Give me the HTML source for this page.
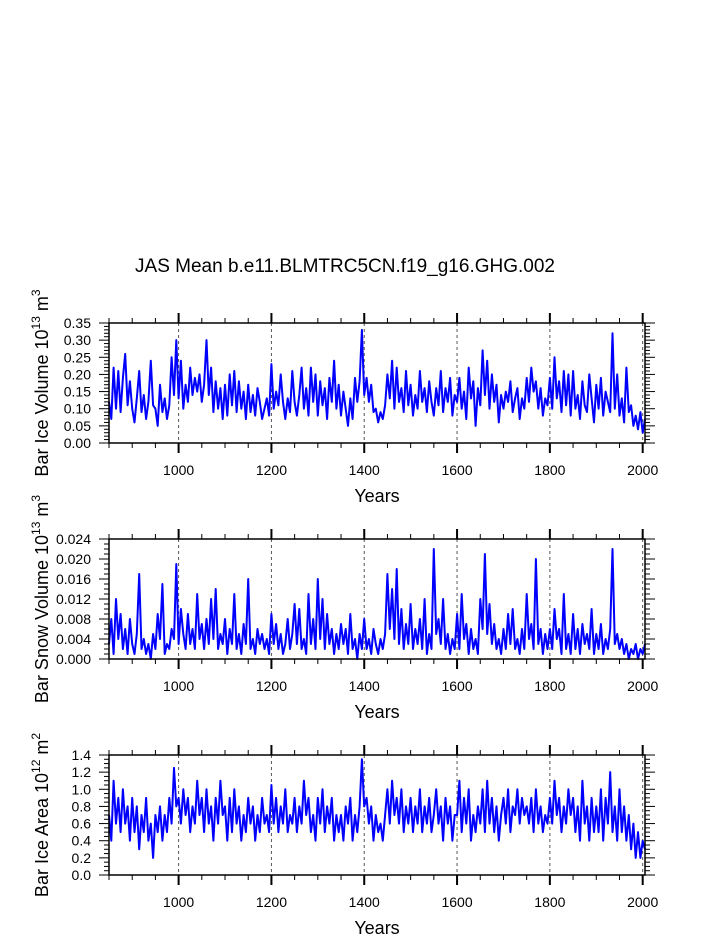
<!DOCTYPE html>
<html><head><meta charset="utf-8"><style>
html,body{margin:0;padding:0;background:#fff}
svg{display:block;font-family:"Liberation Sans",Helvetica,sans-serif}
</style></head><body>
<svg id="chart" width="723" height="935" viewBox="0 0 723 935" xmlns="http://www.w3.org/2000/svg">
<text x="345" y="272" font-size="19" text-anchor="middle">JAS Mean b.e11.BLMTRC5CN.f19_g16.GHG.002</text>
</svg>
<script>
const startYear = 850;
const stepYears = 5;
const xTickLabels = ["1000","1200","1400","1600","1800","2000"];
const iceVolume = [
0.12,0.07,0.22,0.10,0.21,0.09,0.19,0.26,0.11,0.18,
0.10,0.06,0.13,0.21,0.09,0.14,0.07,0.12,0.24,0.11,
0.10,0.05,0.17,0.09,0.13,0.07,0.11,0.25,0.14,0.30,
0.13,0.24,0.10,0.17,0.12,0.22,0.14,0.19,0.15,0.20,
0.12,0.17,0.30,0.14,0.22,0.09,0.18,0.10,0.16,0.07,
0.17,0.08,0.20,0.11,0.21,0.09,0.18,0.10,0.15,0.07,
0.17,0.09,0.14,0.08,0.16,0.12,0.07,0.10,0.13,0.08,
0.23,0.10,0.15,0.11,0.20,0.12,0.07,0.13,0.09,0.21,
0.12,0.08,0.14,0.22,0.10,0.16,0.08,0.22,0.12,0.20,
0.08,0.18,0.11,0.16,0.07,0.19,0.12,0.24,0.10,0.17,
0.08,0.15,0.10,0.05,0.13,0.07,0.19,0.12,0.18,0.33,
0.14,0.19,0.12,0.17,0.09,0.10,0.06,0.09,0.07,0.11,
0.20,0.13,0.24,0.10,0.22,0.12,0.16,0.09,0.21,0.11,
0.17,0.08,0.14,0.10,0.21,0.12,0.16,0.09,0.18,0.12,
0.08,0.16,0.11,0.21,0.09,0.16,0.12,0.19,0.08,0.14,
0.12,0.19,0.10,0.15,0.07,0.22,0.13,0.18,0.05,0.16,
0.11,0.27,0.14,0.24,0.10,0.20,0.12,0.17,0.06,0.14,
0.10,0.15,0.12,0.18,0.09,0.13,0.16,0.07,0.13,0.10,
0.19,0.12,0.22,0.15,0.18,0.10,0.16,0.08,0.13,0.11,
0.19,0.10,0.25,0.13,0.18,0.09,0.21,0.11,0.20,0.08,
0.21,0.10,0.14,0.07,0.18,0.11,0.09,0.20,0.13,0.06,
0.17,0.10,0.19,0.08,0.15,0.12,0.09,0.32,0.10,0.20,
0.08,0.13,0.06,0.22,0.09,0.11,0.05,0.08,0.04,0.09,
0.03,0.07];
const snowVolume = [
0.003,0.008,0.001,0.012,0.004,0.009,0.002,0.006,0.001,0.008,
0.003,0.001,0.005,0.017,0.002,0.004,0.001,0.003,0.000,0.005,
0.002,0.009,0.004,0.015,0.001,0.003,0.002,0.006,0.004,0.019,
0.003,0.010,0.005,0.002,0.009,0.003,0.006,0.002,0.013,0.004,
0.007,0.002,0.008,0.003,0.012,0.004,0.014,0.002,0.005,0.003,
0.008,0.001,0.006,0.003,0.013,0.002,0.005,0.001,0.007,0.003,
0.016,0.002,0.004,0.001,0.006,0.003,0.005,0.002,0.004,0.001,
0.009,0.003,0.007,0.002,0.005,0.001,0.003,0.008,0.002,0.005,
0.011,0.003,0.010,0.002,0.004,0.001,0.013,0.003,0.008,0.002,
0.016,0.004,0.012,0.002,0.009,0.003,0.006,0.001,0.005,0.002,
0.007,0.003,0.006,0.001,0.009,0.002,0.004,0.000,0.005,0.002,
0.008,0.002,0.004,0.001,0.006,0.003,0.001,0.004,0.002,0.005,
0.017,0.006,0.014,0.004,0.018,0.003,0.010,0.002,0.007,0.003,
0.011,0.002,0.006,0.003,0.008,0.002,0.012,0.001,0.005,0.002,
0.022,0.005,0.008,0.003,0.012,0.002,0.005,0.001,0.004,0.002,
0.009,0.002,0.013,0.004,0.007,0.001,0.006,0.002,0.004,0.001,
0.012,0.006,0.021,0.005,0.011,0.003,0.007,0.002,0.004,0.001,
0.006,0.002,0.009,0.003,0.010,0.002,0.004,0.001,0.006,0.002,
0.013,0.004,0.007,0.002,0.020,0.003,0.006,0.001,0.005,0.002,
0.006,0.002,0.010,0.004,0.006,0.001,0.013,0.002,0.005,0.001,
0.009,0.002,0.006,0.001,0.007,0.003,0.005,0.002,0.010,0.001,
0.005,0.002,0.007,0.001,0.004,0.002,0.006,0.022,0.003,0.005,
0.002,0.004,0.001,0.003,0.000,0.002,0.001,0.003,0.000,0.002,
0.001,0.003];
const iceArea = [
0.7,0.4,1.1,0.6,0.9,0.5,1.0,0.6,0.8,0.4,
0.9,0.5,0.8,0.3,0.7,0.5,0.9,0.4,0.6,0.2,
0.7,0.5,0.8,0.4,0.7,0.5,0.9,0.6,1.25,0.8,
0.9,0.6,1.0,0.7,0.9,0.5,0.8,0.6,1.1,0.7,
0.9,0.5,1.0,0.6,0.8,0.4,0.9,0.6,1.1,0.7,
0.8,0.4,0.9,0.5,1.0,0.6,0.8,0.4,0.7,0.5,
0.9,0.6,0.8,0.4,0.7,0.5,0.9,0.6,0.7,0.5,
1.05,0.6,0.9,0.5,0.8,0.6,1.0,0.5,0.7,0.6,
0.9,0.5,0.8,0.6,1.1,0.7,0.9,0.5,0.7,0.4,
0.9,0.6,1.0,0.5,0.8,0.6,0.9,0.4,0.7,0.5,
0.7,0.4,0.8,0.6,0.9,0.4,0.7,0.5,0.8,1.35,
0.8,0.9,0.6,0.8,0.4,0.7,0.5,0.6,0.4,0.7,
1.0,0.6,1.1,0.7,0.9,0.6,1.0,0.5,0.8,0.6,
0.9,0.5,0.8,0.6,1.0,0.5,0.8,0.6,0.9,0.5,
0.7,1.0,0.6,0.8,0.4,0.9,0.6,0.8,0.4,0.7,
0.7,1.1,0.5,0.9,0.6,1.0,0.4,0.7,0.5,0.8,
0.6,1.0,0.5,1.1,0.6,0.9,0.5,0.8,0.4,0.7,
0.9,0.6,1.0,0.5,0.8,0.7,1.0,0.6,0.9,0.7,
0.8,0.6,0.9,0.5,1.0,0.6,0.8,0.5,0.7,0.6,
0.9,0.6,1.1,0.7,0.9,0.5,0.8,0.6,1.0,0.7,
0.9,0.5,0.8,0.4,1.1,0.6,0.8,0.4,0.9,0.5,
0.8,0.5,1.0,0.4,0.9,0.6,1.2,0.5,0.8,0.4,
1.0,0.5,0.8,0.4,0.7,0.3,0.6,0.2,0.5,0.2,
0.4,0.3];
const iceVolTicks = ["0.00","0.05","0.10","0.15","0.20","0.25","0.30","0.35"];
const snowTicks = ["0.000","0.004","0.008","0.012","0.016","0.020","0.024"];
const areaTicks = ["0.0","0.2","0.4","0.6","0.8","1.0","1.2","1.4"];

const NS = "http://www.w3.org/2000/svg";
const svg = document.getElementById('chart');
const X0 = 109, X1 = 645, YMIN = 850, YMAX = 2005;
function xScale(yr){ return X0 + (yr - YMIN) * (X1 - X0) / (YMAX - YMIN); }
function mk(tag, attrs){ const e = document.createElementNS(NS, tag); for (const k in attrs) e.setAttribute(k, attrs[k]); return e; }

function panel(id, top, values, ticks, minorPer, titleHTML){
  const bot = top + 120;
  const vmax = parseFloat(ticks[ticks.length-1]);
  const yScale = v => bot - v / vmax * 120;
  const g = mk('g', {});
  
  
  svg.appendChild(g);
  for (let yr = 1000; yr <= 2000; yr += 200) {
    const l = mk('line', {x1: xScale(yr), x2: xScale(yr), y1: top, y2: bot, stroke: '#555', 'stroke-width': 1, 'stroke-dasharray': '3,3'});
    
    
    g.appendChild(l);
  }
  let d = '';
  values.forEach((v, i) => { d += (i ? 'L' : 'M') + xScale(startYear + i * stepYears).toFixed(1) + ',' + yScale(v).toFixed(1); });
  const p = mk('path', {d: d, fill: 'none', stroke: '#0000ff', 'stroke-width': 2, 'stroke-linejoin': 'round'});
  
  
  g.appendChild(p);
  const r = mk('rect', {x: X0, y: top, width: X1 - X0, height: 120, fill: 'none', stroke: '#000', 'stroke-width': 1.5});
  
  
  g.appendChild(r);
  for (let yr = 850; yr <= 2000; yr += 50) {
    const major = yr % 200 === 0;
    const len = major ? 10 : 5;
    const x = xScale(yr);
    const sw = major ? 2 : 1;
    g.appendChild(mk('line', {x1: x, x2: x, y1: bot, y2: bot + len, stroke: '#000', 'stroke-width': sw}));
    g.appendChild(mk('line', {x1: x, x2: x, y1: top, y2: top - len, stroke: '#000', 'stroke-width': sw}));
  }
  xTickLabels.forEach(lbl => {
    const t = mk('text', {x: xScale(+lbl), y: bot + 32, 'font-size': 14, 'text-anchor': 'middle'});
    t.textContent = lbl;
    
    
    g.appendChild(t);
  });
  const n = ticks.length - 1;
  for (let i = 0; i <= n * minorPer; i++) {
    const y = bot - i * 120 / (n * minorPer);
    const major = i % minorPer === 0;
    const len = major ? 10 : 5;
    g.appendChild(mk('line', {x1: X0, x2: X0 - len, y1: y, y2: y, stroke: '#000', 'stroke-width': 1}));
    g.appendChild(mk('line', {x1: X1, x2: X1 + len, y1: y, y2: y, stroke: '#000', 'stroke-width': 1}));
  }
  ticks.forEach((lbl, i) => {
    const t = mk('text', {x: 91, y: yScale(parseFloat(lbl)) + 5, 'font-size': 14, 'text-anchor': 'end'});
    t.textContent = lbl;
    
    
    g.appendChild(t);
  });
  const xt = mk('text', {x: 377, y: bot + 59, 'font-size': 18, 'text-anchor': 'middle'});
  xt.textContent = 'Years';
  
  
  g.appendChild(xt);
  const yt = mk('text', {x: 0, y: 0, 'font-size': 18, 'text-anchor': 'middle', transform: 'translate(48,' + (top + 60) + ') rotate(-90)'});
  yt.innerHTML = titleHTML;
  
  
  g.appendChild(yt);
}
panel('ice-volume', 323, iceVolume, iceVolTicks, 5, 'Bar Ice Volume 10<tspan font-size="12" dy="-8">13</tspan><tspan dy="8"> m</tspan><tspan font-size="12" dy="-8">3</tspan>');
panel('snow-volume', 539, snowVolume, snowTicks, 4, 'Bar Snow Volume 10<tspan font-size="12" dy="-8">13</tspan><tspan dy="8"> m</tspan><tspan font-size="12" dy="-8">3</tspan>');
panel('ice-area', 755, iceArea, areaTicks, 4, 'Bar Ice Area 10<tspan font-size="12" dy="-8">12</tspan><tspan dy="8"> m</tspan><tspan font-size="12" dy="-8">2</tspan>');
</script>
</body></html>
